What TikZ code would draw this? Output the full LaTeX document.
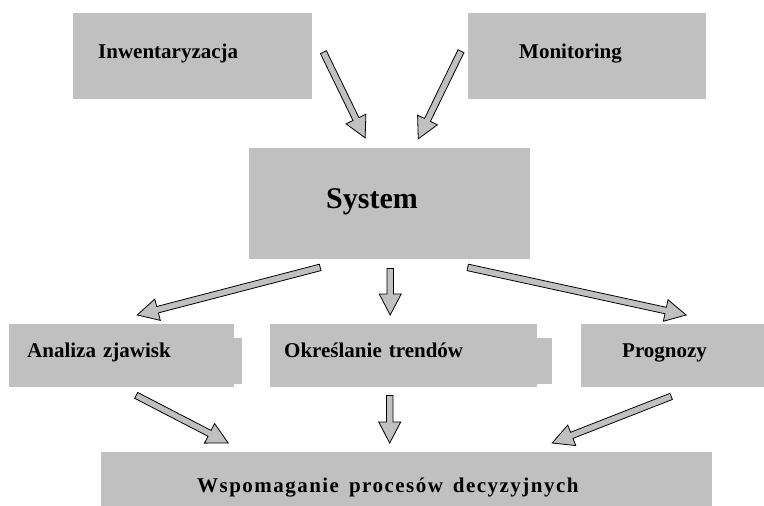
\documentclass[tikz,border=0pt]{standalone}
\usepackage{fontspec}
\setmainfont{Liberation Serif}
\usetikzlibrary{calc}
\usetikzlibrary{positioning}
\definecolor{boxgray}{RGB}{192,192,192}
\tikzset{box/.style={rectangle, fill=boxgray, inner ysep=0pt, align=left,
anchor=north west, font=\fontsize{21}{24}\selectfont\bfseries},
toprow/.style={box, text height=45pt, text depth=41pt},
midrow/.style={box, text height=33pt, text depth=30pt},
arrowbox/.style={fill=boxgray, draw=black, line width=0.8pt, line join=miter}}
\newcommand{\blockarrow}[2]{%
  \filldraw[arrowbox] let \p1=(#1), \p2=(#2),
    \n1={atan2(\y2-\y1,\x2-\x1)}, \n2={veclen(\x2-\x1,\y2-\y1)} in
    [shift={(\p1)}, rotate=\n1]
    (0pt,-3.3pt) -- ({\n2-21pt},-3.3pt) -- ({\n2-21pt},-11pt) -- ({\n2-0pt},0pt)
    -- ({\n2-21pt},11pt) -- ({\n2-21pt},3.3pt) -- (0pt,3.3pt) -- cycle;}
\begin{document}
\begin{tikzpicture}[x=1pt,y=-1pt]
  \useasboundingbox (0,0) rectangle (764,506);
  \node (inw) [toprow, text width=189pt, inner xsep=25pt] at (73,13) {Inwentaryzacja};
  \node (mon) [toprow, text width=136pt, inner xsep=51pt] at (468,13) {Monitoring};
  \node (sys) [box, font=\fontsize{30}{34}\selectfont\bfseries, text height=60pt,
    text depth=51pt, text width=127pt, inner xsep=77pt] at (249,148) {System};
  \node (ana) [midrow, text width=189pt, inner xsep=18pt] at (9,324) {Analiza zjawisk};
  \node (okr) [midrow, text width=239pt, inner xsep=14pt] at (270,324) {Określanie trendów};
  \node (pro) [midrow, text width=101pt, inner xsep=41pt] at (581,324) {Prognozy};
  \node (wsp) [box, text height=40pt, text depth=14pt, text width=419pt, inner xsep=96pt]
    at (101,452) {\addfontfeature{LetterSpace=7}\spaceskip=10pt Wspomaganie procesów decyzyjnych};
  \fill[boxgray] ($(ana.north east)+(0,14)$) rectangle ($(ana.south east)+(8,-3)$);
  \fill[boxgray] ($(okr.north east)+(0,14)$) rectangle ($(okr.south east)+(15,-3)$);
  \blockarrow{$(inw.east)+(11,-4)$}{$(sys.north)+(-24.5,-10)$}
  \blockarrow{$(mon.west)+(-7,-5)$}{$(sys.north)+(28.5,-9)$}
  \blockarrow{$(sys.south)+(-69.5,8)$}{$(ana.north)+(15.5,-9)$}
  \blockarrow{$(sys.south)+(0.5,9)$}{$(okr.north)+(-13.5,-9)$}
  \blockarrow{$(sys.south)+(78,8)$}{$(pro.north)+(13.5,-9)$}
  \blockarrow{$(ana.south)+(14.5,8)$}{$(wsp.north)+(-178.5,-9)$}
  \blockarrow{$(okr.south)+(-14,8)$}{$(wsp.north)+(-17,-9)$}
  \blockarrow{$(pro.south)+(-1.5,9)$}{$(wsp.north)+(145.5,-9)$}
\end{tikzpicture}
\end{document}
